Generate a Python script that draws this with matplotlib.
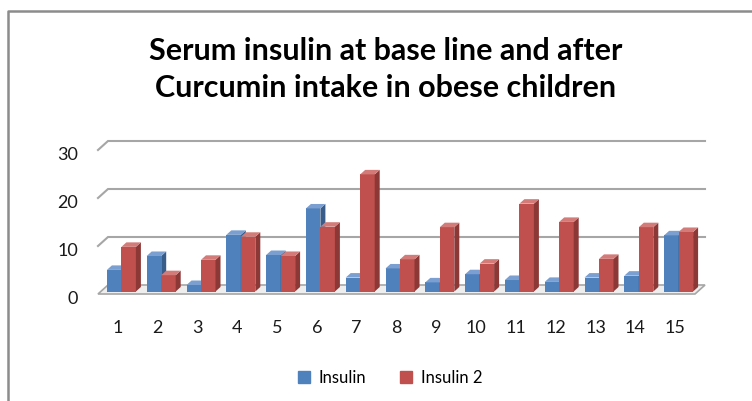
import matplotlib
matplotlib.use("Agg")
import matplotlib.pyplot as plt
import matplotlib.transforms as mtransforms
from matplotlib.patches import Polygon
from matplotlib.lines import Line2D

# data
categories = list(range(1, 16))
insulin = [4.5, 7.4, 1.35, 11.8, 7.6, 17.3, 2.9, 4.8, 1.9, 3.6, 2.4, 2.0, 2.9, 3.3, 11.7]
insulin2 = [9.3, 3.4, 6.6, 11.4, 7.4, 13.5, 24.4, 6.7, 13.4, 5.8, 18.3, 14.5, 6.8, 13.4, 12.4]
yticks = [0, 10, 20, 30]
title = "Serum insulin at base line and after\nCurcumin intake in obese children"
series_names = ["Insulin", "Insulin 2"]

plt.rcParams['font.family'] = ['Lato', 'DejaVu Sans']

W, H = 752, 401
fig = plt.figure(figsize=(W / 100, H / 100), dpi=100)

# plot area in pixels: front floor at y=294, x from 98 to 695
px_unit = 4.8
left, right, floor = 98, 695, 294
ymax = 32
ax = fig.add_axes([left / W, (H - floor) / H, (right - left) / W, ymax * px_unit / H])
ax.set_xlim(0.5, 15.5)
ax.set_ylim(0, ymax)
for s in ax.spines.values():
    s.set_visible(False)

xu = (right - left) / 15.0  # px per x unit
dx = 10 / xu   # depth offset of back wall
dy = 9 / px_unit

grid_col = "#a6a6a6"
# floor
ax.add_patch(Polygon([(0.5, 0), (15.5, 0), (15.5 + dx, dy), (0.5 + dx, dy)],
                     closed=True, facecolor="#eeeeee", edgecolor=grid_col, lw=1.2,
                     zorder=1, clip_on=False))
# back wall gridlines
for v in yticks[1:]:
    ax.plot([0.5, 0.5 + dx, 15.5 + dx], [v, v + dy, v + dy], color=grid_col, lw=1.5,
            zorder=1, clip_on=False, solid_joinstyle="miter")

# bars with fake depth
bw = 14.5 / xu
shift = 3.5 / xu
base = 2.5 / px_unit
bdx = 5 / xu
bdy = 4.5 / px_unit
colors = [("#4f81bd", "#385d8a", "#7a9fd0"), ("#c0504d", "#8c3836", "#d27b78")]
z = 2
for i, c in enumerate(categories):
    for k, vals in enumerate([insulin, insulin2]):
        front, side, top = colors[k]
        x0 = c + shift - bw + k * bw
        v = vals[i]
        ax.bar(x0, v, width=bw, bottom=base, align="edge", color=front,
               zorder=z, clip_on=False, lw=0)
        y1 = base + v
        ax.add_patch(Polygon([(x0 + bw, base), (x0 + bw + bdx, base + bdy),
                              (x0 + bw + bdx, y1 + bdy), (x0 + bw, y1)],
                             closed=True, facecolor=side, lw=0, zorder=z, clip_on=False))
        ax.add_patch(Polygon([(x0, y1), (x0 + bw, y1), (x0 + bw + bdx, y1 + bdy),
                              (x0 + bdx, y1 + bdy)],
                             closed=True, facecolor=top, lw=0, zorder=z, clip_on=False))
        z += 1

ax.set_yticks(yticks)
ax.set_xticks(categories)
ax.set_xticklabels([str(c) for c in categories])
ax.tick_params(axis="y", length=0, pad=14.5, labelsize=13, colors="#1a1a1a")
ax.tick_params(axis="x", length=0, pad=19, labelsize=13, colors="#1a1a1a")
down = mtransforms.ScaledTranslation(0, -3.5 / 100, fig.dpi_scale_trans)
for lab in ax.get_yticklabels():
    lab.set_transform(lab.get_transform() + down)

fig.text(386 / W, 1 - 69.5 / H, title, ha="center", va="center", fontsize=22,
         fontweight="bold", color="#000000", linespacing=1.38)

# legend
handles = [plt.Rectangle((0, 0), 1, 1, color=colors[0][0]),
           plt.Rectangle((0, 0), 1, 1, color=colors[1][0])]
fig.legend(handles, series_names, loc="center", bbox_to_anchor=(390 / W, 1 - 378 / H),
           ncol=2, frameon=False, fontsize=12, handlelength=0.75, handleheight=0.75,
           handletextpad=0.5, columnspacing=2.0)

# chart frame (top and left edges visible)
fig.add_artist(Line2D([7.5 / W, 7.5 / W, 1.0], [0.0, 1 - 11 / H, 1 - 11 / H],
                      color="#8c8c8c", lw=1.8, transform=fig.transFigure))

fig.savefig("out.png", dpi=100)
